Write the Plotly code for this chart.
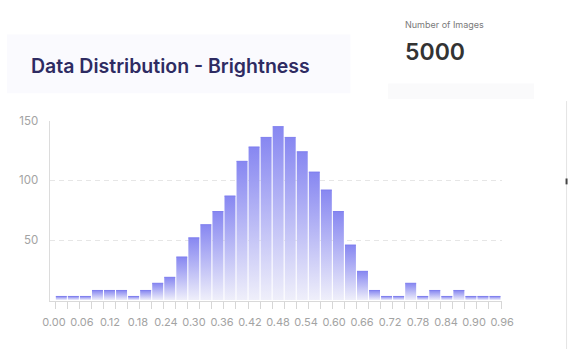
import plotly.graph_objects as go

# ---------------- data ----------------
bin_start = 0.003
bin_width = 0.0258
counts = [3, 3, 3, 8, 8, 8, 3, 8, 14, 19, 36, 52, 63, 74, 87, 116, 128, 136, 145,
          136, 124, 107, 92, 74, 46, 24, 8, 3, 3, 14, 3, 8, 3, 8, 3, 3, 3]
x_tick_vals = [round(0.06 * i, 2) for i in range(17)]
x_tick_text = [f"{v:.2f}" for v in x_tick_vals]
y_tick_vals = [50, 100, 150]
title_text = "Data Distribution - Brightness"
stat_label = "Number of Images"
stat_value = "5000"

W, H = 580, 349
FONT = "Inter"

def px_x(p):
    return p / W

def px_y(p):
    return 1 - p / H

edges = [bin_start + i * bin_width for i in range(len(counts) + 1)]

fig = go.Figure()

gap = bin_width * 0.045
for i, c in enumerate(counts):
    x0 = edges[i] + gap
    x1 = edges[i + 1] - gap
    fig.add_trace(go.Scatter(
        x=[x0, x1, x1, x0, x0],
        y=[0, 0, c, c, 0],
        mode="lines",
        line=dict(width=0, color="rgba(0,0,0,0)"),
        fill="toself",
        fillgradient=dict(type="vertical",
                          colorscale=[[0, "#efeffa"], [1, "#8787f1"]]),
        hoverinfo="skip",
        showlegend=False,
    ))
    fig.add_trace(go.Scatter(
        x=[x0, x1], y=[c, c], mode="lines",
        line=dict(width=1, color="#7e7eee"),
        hoverinfo="skip", showlegend=False,
    ))

fig.add_trace(go.Scatter(x=[edges[0]], y=[0], xaxis="x2", mode="markers",
                         marker=dict(opacity=0), hoverinfo="skip",
                         showlegend=False))

xr = [-0.0093, 0.9602]
dom_x = [px_x(44), px_x(512)]
dom_y = [px_y(300.5), px_y(116)]

fig.update_layout(
    width=W, height=H,
    margin=dict(l=0, r=0, t=0, b=0),
    paper_bgcolor="white",
    plot_bgcolor="rgba(0,0,0,0)",
    font=dict(family=FONT, color="#a3a3a3", size=11),
    xaxis=dict(
        domain=dom_x, range=xr, tickmode="array",
        tickvals=x_tick_vals, ticktext=x_tick_text,
        ticks="outside", ticklen=10, tickcolor="rgba(0,0,0,0)",
        showgrid=False, zeroline=False,
        showline=True, linecolor="#d9d9d9", linewidth=1,
        tickfont=dict(size=11, color="#a3a3a3"),
    ),
    xaxis2=dict(
        domain=dom_x, range=xr, overlaying="x", anchor="y", side="bottom",
        tickmode="array", tickvals=edges, ticks="outside", ticklen=7,
        tickcolor="#d6d6d6", tickwidth=1, showticklabels=False,
        showgrid=False, zeroline=False, showline=False,
    ),
    yaxis=dict(
        domain=dom_y, range=[-1.2, 150], tickmode="array",
        tickvals=y_tick_vals, ticks="outside", ticklen=8,
        tickcolor="rgba(0,0,0,0)",
        showgrid=True, gridcolor="#e6e6e6", gridwidth=1, griddash="5px,4px",
        zeroline=False, showline=True, linecolor="#dcdcdc", linewidth=1,
        tickfont=dict(size=11.5, color="#a3a3a3"),
    ),
    shapes=[
        dict(type="rect", xref="paper", yref="paper",
             x0=0, x1=px_x(355), y0=px_y(88), y1=px_y(28),
             fillcolor="#fafafe", line=dict(width=0), layer="below"),
        dict(type="rect", xref="paper", yref="paper",
             x0=px_x(394), x1=px_x(545), y0=px_y(94), y1=px_y(78),
             fillcolor="#fafafb", line=dict(width=0), layer="below"),
        dict(type="line", xref="paper", yref="paper",
             x0=px_x(578.5), x1=px_x(578.5), y0=px_y(349), y1=px_y(96),
             line=dict(color="#e4e4e4", width=1)),
        dict(type="line", xref="paper", yref="paper",
             x0=px_x(578.5), x1=px_x(578.5), y0=px_y(181), y1=px_y(175),
             line=dict(color="#444444", width=2)),
    ],
    annotations=[
        dict(text=title_text, xref="paper", yref="paper",
             x=px_x(23), y=px_y(60), xanchor="left", yanchor="middle",
             showarrow=False,
             font=dict(family=FONT, size=19.5, color="#2e2b62", weight=600)),
        dict(text=stat_label, xref="paper", yref="paper",
             x=px_x(409), y=px_y(18), xanchor="left", yanchor="middle",
             showarrow=False,
             font=dict(family=FONT, size=9, color="#7a7a7a")),
        dict(text=stat_value, xref="paper", yref="paper",
             x=px_x(409), y=px_y(46), xanchor="left", yanchor="middle",
             showarrow=False,
             font=dict(family=FONT, size=23, color="#333333", weight=600)),
    ],
)

fig.write_html(
    "out.html",
    post_script="document.body.style.margin='0';document.body.style.overflow='hidden';",
)
